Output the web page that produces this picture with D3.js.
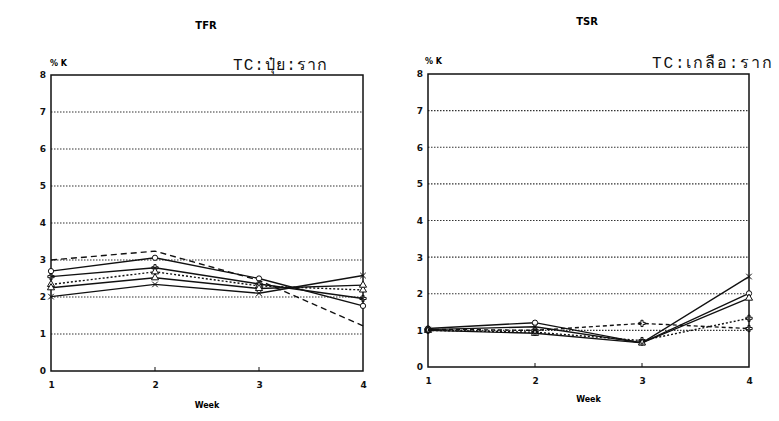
<!DOCTYPE html>
<html><head><meta charset="utf-8">
<script src="https://cdn.jsdelivr.net/npm/d3@7"></script>
<style>body{margin:0;background:#fff}</style>
</head><body>
<svg id="c" width="779" height="421"></svg>
<script>
const weeks = [1, 2, 3, 4];
const yTicks = [0, 1, 2, 3, 4, 5, 6, 7, 8];
const gridVals = [1, 2, 3, 4, 5, 6, 7];

// TFR (left) series
const tfrA = [3.0, 3.24, 2.45, 1.22];
const tfrB = [2.7, 3.06, 2.5, 1.76];
const tfrC = [2.55, 2.79, 2.35, 1.96];
const tfrD = [2.34, 2.68, 2.3, 2.19];
const tfrE = [2.25, 2.52, 2.23, 2.32];
const tfrF = [2.01, 2.34, 2.1, 2.58];

// TSR (right) series
const tsrA = [1.02, 1.1, 0.66, 2.47];
const tsrB = [1.05, 1.21, 0.66, 2.01];
const tsrC = [1.0, 0.92, 0.66, 1.88];
const tsrD = [1.03, 1.0, 1.19, 1.05];
const tsrE = [1.0, 0.95, 0.72, 1.33];

const charts = [
  {title: "TFR", label: "TC:ปุ๋ย:ราก", x0: 51, x1: 363, y0: 371, y1: 75,
   titleX: 206, titleY: 29, kX: 50, kY: 66, labX: 233, labY: 70, labW: 94,
   weekY: 388, weekLabY: 408,
   series: [
     {v: tfrA, dash: "6,4", m: "none"},
     {v: tfrB, dash: null, m: "circle"},
     {v: tfrC, dash: null, m: "plus"},
     {v: tfrD, dash: "2,2", m: "triangle"},
     {v: tfrE, dash: null, m: "triangle"},
     {v: tfrF, dash: null, m: "cross"}
   ]},
  {title: "TSR", label: "TC:เกลือ:ราก", x0: 428, x1: 749, y0: 367, y1: 74,
   titleX: 587, titleY: 25, kX: 425, kY: 64, labX: 652, labY: 68, labW: 120,
   weekY: 384, weekLabY: 402,
   series: [
     {v: tsrA, dash: null, m: "cross"},
     {v: tsrB, dash: null, m: "circle"},
     {v: tsrC, dash: null, m: "triangle"},
     {v: tsrD, dash: "4,3", m: "plus"},
     {v: tsrE, dash: "2,2", m: "plus"}
   ]}
];

const svg = d3.select("#c");
const bold = "'DejaVu Sans', 'Liberation Sans', Arial, sans-serif";

charts.forEach(c => {
  const x = d3.scaleLinear().domain([1, 4]).range([c.x0, c.x1]);
  const y = d3.scaleLinear().domain([0, 8]).range([c.y0, c.y1]);
  const g = svg.append("g");

  g.selectAll(".grid").data(gridVals).enter().append("line")
    .attr("x1", c.x0).attr("x2", c.x1)
    .attr("y1", d => y(d)).attr("y2", d => y(d))
    .attr("stroke", "#333").attr("stroke-width", 1.2)
    .attr("stroke-dasharray", "1.5,1.5");

  g.append("rect").attr("x", c.x0).attr("y", c.y1)
    .attr("width", c.x1 - c.x0).attr("height", c.y0 - c.y1)
    .attr("fill", "none").attr("stroke", "#111").attr("stroke-width", 1.5);

  const ya = d3.axisLeft(y).tickValues(yTicks).tickSize(0).tickPadding(5).tickFormat(d3.format("d"));
  const yg = g.append("g").attr("transform", `translate(${c.x0},0)`).call(ya);
  yg.select(".domain").remove();
  yg.selectAll("text").attr("font-family", bold).attr("font-weight", "bold")
    .attr("font-size", 9).attr("fill", "#111");

  const xa = d3.axisBottom(x).tickValues(weeks).tickSize(0).tickPadding(0).tickFormat(d3.format("d"));
  const xg = g.append("g").attr("transform", `translate(0,${c.weekY - 8})`).call(xa);
  xg.select(".domain").remove();
  xg.selectAll("text").attr("font-family", bold).attr("font-weight", "bold")
    .attr("font-size", 9).attr("fill", "#111").attr("dy", "0.9em");
  g.selectAll(".xt").data(weeks.slice(1, 3)).enter().append("line")
    .attr("x1", d => x(d)).attr("x2", d => x(d))
    .attr("y1", c.y0).attr("y2", c.y0 - 4).attr("stroke", "#111");

  g.append("text").attr("x", c.titleX).attr("y", c.titleY).attr("text-anchor", "middle")
    .attr("font-family", bold).attr("font-weight", "bold").attr("font-size", 10).text(c.title);
  g.append("text").attr("x", c.kX).attr("y", c.kY)
    .attr("font-family", bold).attr("font-weight", "bold").attr("font-size", 8).text("% K");
  g.append("text").attr("x", c.labX).attr("y", c.labY)
    .attr("font-family", "'Liberation Mono', 'Noto Sans', monospace").attr("font-size", 16)
    .attr("textLength", c.labW).attr("lengthAdjust", "spacing")
    .attr("fill", "#111").text(c.label);
  g.append("text").attr("x", (c.x0 + c.x1) / 2).attr("y", c.weekLabY).attr("text-anchor", "middle")
    .attr("font-family", bold).attr("font-weight", "bold").attr("font-size", 8).text("Week");

  const line = d3.line().x((d, i) => x(weeks[i])).y(d => y(d));
  c.series.forEach(s => {
    g.append("path").datum(s.v).attr("d", line).attr("fill", "none")
      .attr("stroke", "#111").attr("stroke-width", 1.4)
      .attr("stroke-dasharray", s.dash);
    const sym = {circle: d3.symbolCircle, plus: d3.symbolCross, triangle: d3.symbolTriangle,
                 cross: d3.symbolX}[s.m];
    if (sym) {
      g.selectAll(null).data(s.v).enter().append("path")
        .attr("transform", (d, i) => `translate(${x(weeks[i])},${y(d)})`)
        .attr("d", d3.symbol().type(sym).size(22))
        .attr("fill", s.m === "circle" || s.m === "triangle" ? "#fff" : "none")
        .attr("stroke", "#111").attr("stroke-width", 1);
    }
  });
});
</script>
</body></html>
